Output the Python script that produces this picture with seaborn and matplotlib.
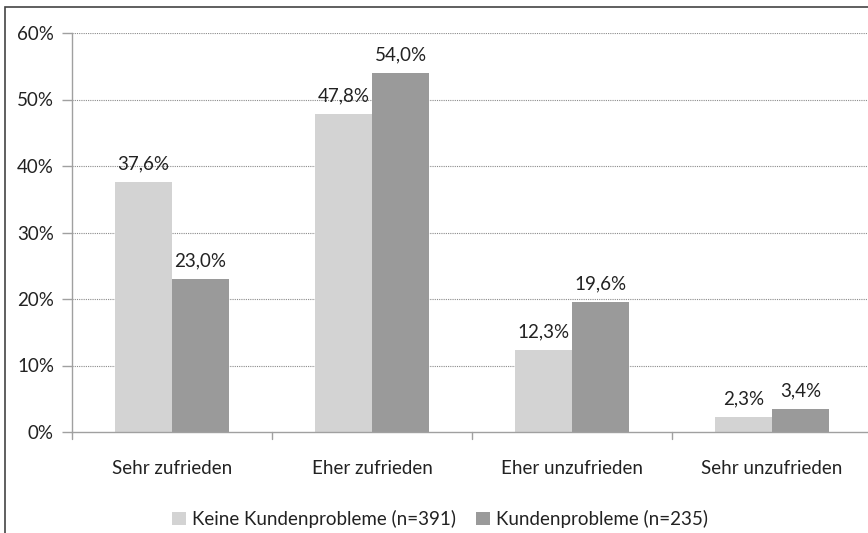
import matplotlib
matplotlib.use("Agg")
import matplotlib.pyplot as plt
import seaborn as sns
import pandas as pd
from matplotlib.patches import Rectangle

categories = ["Sehr zufrieden", "Eher zufrieden", "Eher unzufrieden", "Sehr unzufrieden"]
series_names = ["Keine Kundenprobleme (n=391)", "Kundenprobleme (n=235)"]
keine = [37.6, 47.8, 12.3, 2.3]
kunden = [23.0, 54.0, 19.6, 3.4]
yticks = [0, 10, 20, 30, 40, 50, 60]

df = pd.DataFrame({
    "cat": categories * 2,
    "series": [series_names[0]] * 4 + [series_names[1]] * 4,
    "val": keine + kunden,
})

sns.set_theme(style="white")
plt.rcParams["font.family"] = ["Lato", "DejaVu Sans"]
FS = 13.5

fig = plt.figure(figsize=(8.68, 5.33), dpi=100)
ax = fig.add_axes([72 / 868, 1 - 432 / 533, 800 / 868, (432 - 33) / 533])

palette = ["#d3d3d3", "#9a9a9a"]
sns.barplot(data=df, x="cat", y="val", hue="series", palette=palette,
            width=0.57, gap=0, saturation=1, ax=ax, edgecolor="none", legend=True)

for cont in ax.containers:
    ax.bar_label(cont, labels=[f"{v:.1f}%".replace(".", ",") for v in cont.datavalues],
                 padding=7, fontsize=FS, color="#222222")

ax.set_ylim(0, 60)
ax.set_xlim(-0.5, 3.5)
ax.set_yticks(yticks)
ax.set_yticklabels([f"{t}%" for t in yticks], fontsize=FS, color="#222222")
ax.set_xticks([0, 1, 2, 3])
ax.set_xticklabels(categories, fontsize=FS, color="#222222")
ax.tick_params(axis="x", length=0, pad=20)
ax.tick_params(axis="y", length=7, color="#a0a0a0", width=1, pad=6, direction="out", left=True)
ax.set_xlabel("")
ax.set_ylabel("")

for y in yticks[1:]:
    ax.axhline(y, color="#8a8a8a", lw=0.8, ls=(0, (1, 1)), zorder=0)
# boundary tick marks below x-axis
for b in [-0.5, 0.5, 1.5, 2.5, 3.5]:
    ax.plot([b, b], [0, -1.0], color="#a0a0a0", lw=1, clip_on=False)

for s in ["top", "right"]:
    ax.spines[s].set_visible(False)
for s in ["left", "bottom"]:
    ax.spines[s].set_color("#a0a0a0")
    ax.spines[s].set_linewidth(1)

leg = ax.legend(loc="center", bbox_to_anchor=(440 / 868, 1 - 519 / 533),
                bbox_transform=fig.transFigure, ncol=2, frameon=False,
                fontsize=FS, handlelength=0.75, handleheight=0.75,
                handletextpad=0.3, columnspacing=1.1)
for t in leg.get_texts():
    t.set_color("#222222")

fig.patches.append(Rectangle((5 / 868, -0.1), 1.0, 1 - 7 / 533 + 0.1,
                             transform=fig.transFigure, fill=False,
                             edgecolor="#444444", lw=1.2, zorder=10))

fig.savefig("out.png", dpi=100)
